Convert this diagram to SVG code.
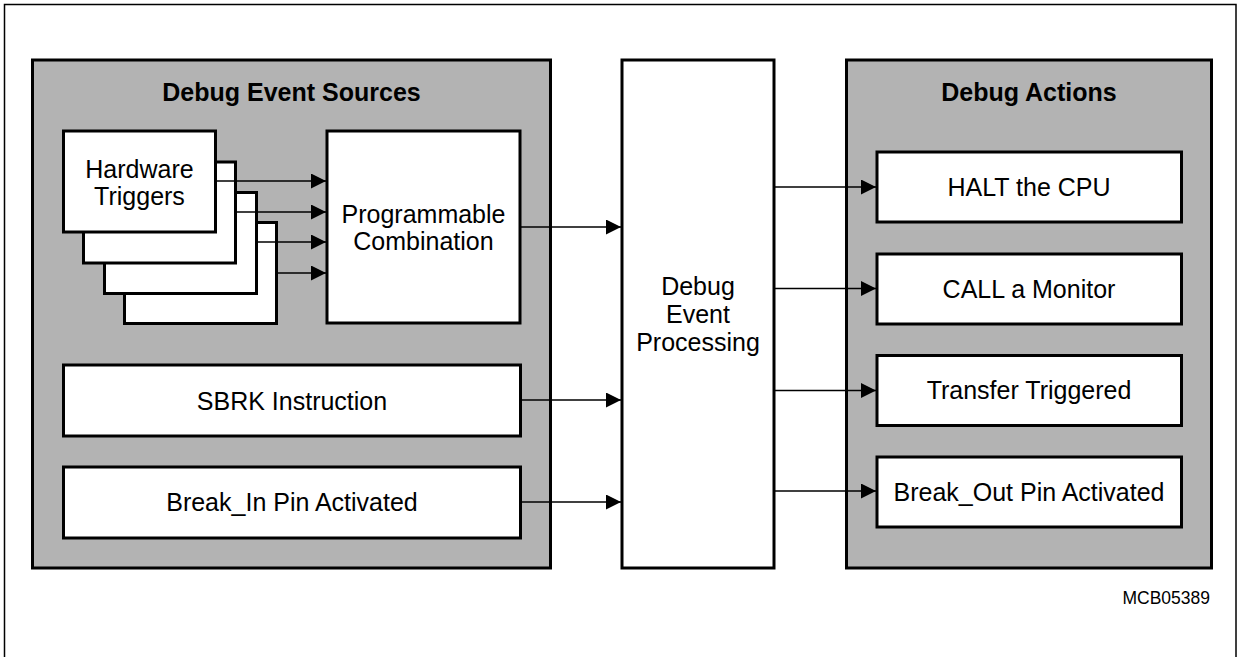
<svg xmlns="http://www.w3.org/2000/svg" width="1240" height="657" viewBox="0 0 1240 657">
<defs>
<style>
.frame{fill:#fff;stroke:#000;stroke-width:1.5}
.panel{fill:#b3b3b3;stroke:#000;stroke-width:3}
.box{fill:#fff;stroke:#000;stroke-width:3}
.t{font-family:"Liberation Sans",Arial,Helvetica,sans-serif;font-size:25px;fill:#000;text-anchor:middle}
.h{font-family:"Liberation Sans",Arial,Helvetica,sans-serif;font-size:25px;font-weight:bold;fill:#000;text-anchor:middle}
.tag{font-family:"Liberation Sans",Arial,Helvetica,sans-serif;font-size:17.5px;fill:#000;text-anchor:end}
.c{stroke:#000;stroke-width:1.5;fill:none;marker-end:url(#ah)}
</style>
<marker id="ah" markerUnits="userSpaceOnUse" markerWidth="16" markerHeight="15" refX="15" refY="7.5" orient="auto">
<path d="M0,0 L15,7.5 L0,15 Z" fill="#000"/>
</marker>
</defs>
<rect class="frame" x="4.5" y="4.5" width="1231.5" height="660"/>

<g id="sources">
<rect class="panel" x="32.5" y="60" width="518" height="508"/>
<text class="h" x="291.5" y="101">Debug Event Sources</text>
</g>

<g id="hw-triggers">
<rect class="box" x="124.5" y="222.5" width="152" height="101"/>
<rect class="box" x="104.5" y="192.5" width="152" height="101"/>
<rect class="box" x="83.5" y="162" width="152" height="101"/>
<rect class="box" x="63.5" y="131" width="152" height="101"/>
<text class="t" x="139.5" y="177.5">Hardware</text>
<text class="t" x="139.5" y="205">Triggers</text>
</g>

<g id="prog-comb">
<rect class="box" x="327" y="131" width="193" height="192"/>
<text class="t" x="423.5" y="222.5">Programmable</text>
<text class="t" x="423.5" y="249.5">Combination</text>
</g>

<g id="sbrk">
<rect class="box" x="63.5" y="365" width="457" height="71"/>
<text class="t" x="292" y="410">SBRK Instruction</text>
</g>

<g id="break-in">
<rect class="box" x="63.5" y="467" width="457" height="71"/>
<text class="t" x="292" y="511">Break_In Pin Activated</text>
</g>

<g id="processing">
<rect class="box" x="622" y="60" width="152" height="508"/>
<text class="t" x="698" y="295">Debug</text>
<text class="t" x="698" y="323">Event</text>
<text class="t" x="698" y="351">Processing</text>
</g>

<g id="actions">
<rect class="panel" x="846.5" y="60" width="365" height="508"/>
<text class="h" x="1029" y="101">Debug Actions</text>
</g>

<g id="halt">
<rect class="box" x="877" y="152" width="304.5" height="70"/>
<text class="t" x="1029" y="196">HALT the CPU</text>
</g>

<g id="call">
<rect class="box" x="877" y="254" width="304.5" height="70"/>
<text class="t" x="1029" y="298">CALL a Monitor</text>
</g>

<g id="transfer">
<rect class="box" x="877" y="355.5" width="304.5" height="70"/>
<text class="t" x="1029" y="399">Transfer Triggered</text>
</g>

<g id="break-out">
<rect class="box" x="877" y="457" width="304.5" height="70"/>
<text class="t" x="1029" y="501">Break_Out Pin Activated</text>
</g>

<g id="connectors">
<line class="c" x1="216" y1="181" x2="326" y2="181"/>
<line class="c" x1="236" y1="212" x2="326" y2="212"/>
<line class="c" x1="257" y1="242" x2="326" y2="242"/>
<line class="c" x1="277" y1="273" x2="326" y2="273"/>
<line class="c" x1="521" y1="227" x2="621" y2="227"/>
<line class="c" x1="521" y1="400" x2="621" y2="400"/>
<line class="c" x1="521" y1="502" x2="621" y2="502"/>
<line class="c" x1="775" y1="187" x2="876" y2="187"/>
<line class="c" x1="775" y1="288.5" x2="876" y2="288.5"/>
<line class="c" x1="775" y1="390.5" x2="876" y2="390.5"/>
<line class="c" x1="775" y1="491" x2="876" y2="491"/>
</g>

<text class="tag" x="1210" y="604">MCB05389</text>
</svg>
